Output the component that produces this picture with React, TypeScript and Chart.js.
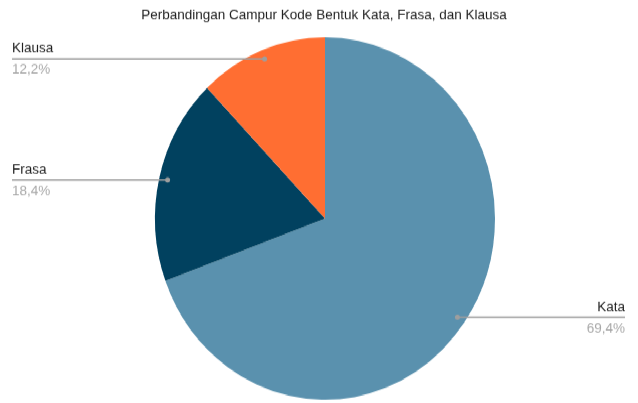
import React, { useEffect, useRef } from "react";
import { Chart, registerables } from "chart.js";

Chart.register(...registerables);

const TITLE = "Perbandingan Campur Kode Bentuk Kata, Frasa, dan Klausa";
const categories = ["Kata", "Frasa", "Klausa"];
const values = [69.4, 18.4, 12.2];
const colors = ["#5A91AE", "#01415F", "#FF6E32"];

const W = 638;
const H_DRAW = 378;
const H_OUT = 403;
const FONT = "13.5px 'Liberation Sans', Arial, sans-serif";

const labelPlugin = {
  id: "leaderLabels",
  afterDraw(chart: any) {
    const ctx = chart.ctx;
    const meta = chart.getDatasetMeta(0);
    const total = values.reduce((a, b) => a + b, 0);
    ctx.save();
    // title
    ctx.font = FONT;
    ctx.fillStyle = "#222222";
    ctx.textAlign = "center";
    ctx.textBaseline = "middle";
    ctx.fillText(TITLE, 324, 14);

    meta.data.forEach((arc: any, i: number) => {
      const { x, y, startAngle, endAngle, outerRadius } = arc.getProps(
        ["x", "y", "startAngle", "endAngle", "outerRadius"],
        true
      );
      const mid = (startAngle + endAngle) / 2;
      const px = x + Math.cos(mid) * outerRadius * 0.95;
      const py = y + Math.sin(mid) * outerRadius * 0.95;
      const right = Math.cos(mid) > 0;
      const ex = right ? 625 : 12;
      ctx.strokeStyle = "#9E9E9E";
      ctx.lineWidth = 1.5;
      ctx.beginPath();
      ctx.moveTo(px, py);
      ctx.lineTo(ex, py);
      ctx.stroke();
      ctx.fillStyle = "#9E9E9E";
      ctx.beginPath();
      ctx.arc(px, py, 2.5, 0, Math.PI * 2);
      ctx.fill();
      ctx.textAlign = right ? "right" : "left";
      ctx.textBaseline = "middle";
      ctx.font = FONT;
      ctx.fillStyle = "#222222";
      ctx.fillText(categories[i], ex, py - 9.5);
      ctx.fillStyle = "#A8A8A8";
      const pct = ((values[i] / total) * 100).toFixed(1).replace(".", ",") + "%";
      ctx.fillText(pct, ex, py + 10.5);
    });
    ctx.restore();
  },
};

export default function App() {
  const ref = useRef<HTMLCanvasElement>(null);
  useEffect(() => {
    if (!ref.current) return;
    const chart = new Chart(ref.current, {
      type: "pie",
      data: {
        labels: categories,
        datasets: [
          {
            data: values,
            backgroundColor: colors,
            borderWidth: 0,
          },
        ],
      },
      options: {
        responsive: false,
        animation: false,
        devicePixelRatio: 1,
        layout: { padding: { top: 35, bottom: 3, left: 155, right: 143 } },
        plugins: {
          legend: { display: false },
          tooltip: { enabled: false },
          title: { display: false },
        },
      },
      plugins: [labelPlugin],
    });
    return () => chart.destroy();
  }, []);
  return (
    <div
      style={{
        position: "absolute",
        left: 0,
        top: 0,
        width: W,
        height: H_DRAW,
        transform: `scaleY(${H_OUT / H_DRAW})`,
        transformOrigin: "top left",
        background: "#fff",
      }}
    >
      <canvas
        ref={ref}
        width={W}
        height={H_DRAW}
        style={{ display: "block", width: W, height: H_DRAW }}
      />
    </div>
  );
}
